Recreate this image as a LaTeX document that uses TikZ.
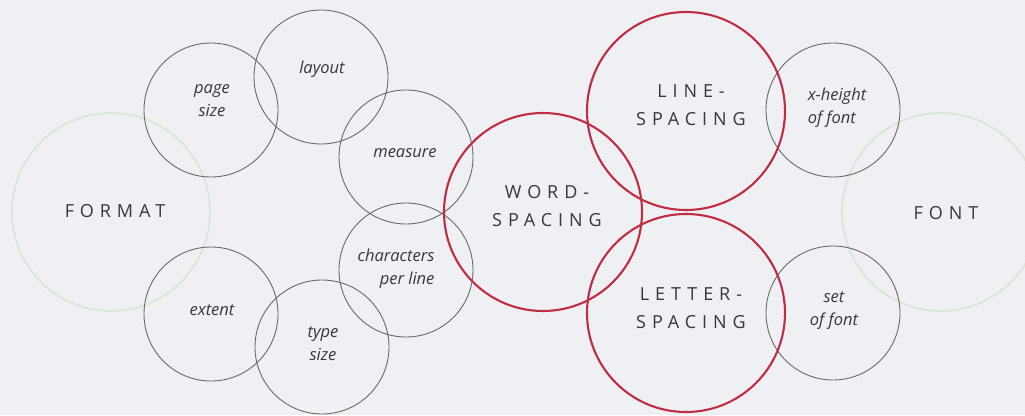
\documentclass[tikz,border=0pt]{standalone}
\usepackage{fontspec}
\setmainfont{Open Sans}
\newfontfamily\capsfont[LetterSpace=33]{Open Sans}
\definecolor{ringred}{RGB}{192,44,66}
\definecolor{ringgreen}{RGB}{218,231,210}
\definecolor{ringgray}{RGB}{105,105,108}
\definecolor{inkgray}{RGB}{55,55,60}
\definecolor{paper}{RGB}{239,240,243}
\begin{document}
\begin{tikzpicture}[x=1pt,y=-1pt,
  ring/.style={circle,draw=#1,inner sep=0pt},
  small/.style={ring=ringgray,line width=0.9pt,minimum size=134pt},
  big/.style={ring=ringred,line width=2.1pt,minimum size=198pt},
  outer/.style={ring=ringgreen,line width=1.8pt,minimum size=198pt},
  itext/.style={font=\fontsize{16.5}{23}\selectfont\itshape,text=inkgray,align=center},
  ctext/.style={font=\fontsize{18}{28}\capsfont,text=inkgray,align=center}]
\fill[paper] (0,0) rectangle (1025,415);
\useasboundingbox (0,0) rectangle (1025,415);
\clip (0,0) rectangle (1025,415);
% outer groups
\node[outer] (format) at (111,212) {};
\node[outer] (font) at (941,212) {};
% format attributes
\node[small] (page) at (211,110) {};
\node[small] (layout) at (321,77) {};
\node[small] (measure) at (406,157) {};
\node[small] (cpl) at (406,270) {};
\node[small] (extent) at (211,314) {};
\node[small] (typesize) at (322,347) {};
% font attributes
\node[small] (xheight) at (833,110) {};
\node[small] (set) at (833,313) {};
% spacing
\node[big] (word) at (543,212) {};
\node[big] (line) at (686,111) {};
\node[big] (letter) at (686,313) {};
% labels
\node[ctext] (tformat) at (115,211) {FORMAT};
\node[ctext] (tfont) at (946,213) {FONT};
\node[ctext] (tword) at (547,206) {WORD-\\SPACING};
\node[ctext] (tline) at (691,105) {LINE-\\SPACING};
\node[ctext] (tletter) at (691,308) {LETTER-\\SPACING};
\node[itext] (tpage) at (212,101) {page\\size};
\node[itext] (tlayout) at (322,69) {layout};
\node[itext] (tmeasure) at (405,153) {measure};
\node[itext,align=right] (tcpl) at (396,269) {characters\\per line};
\node[itext] (textent) at (212,310) {extent};
\node[itext] (ttype) at (323,344) {type\\size};
\node[itext,align=left] (txh) at (837,108) {x-height\\of font};
\node[itext] (tset) at (834,311) {set\\of font};
\end{tikzpicture}
\end{document}
